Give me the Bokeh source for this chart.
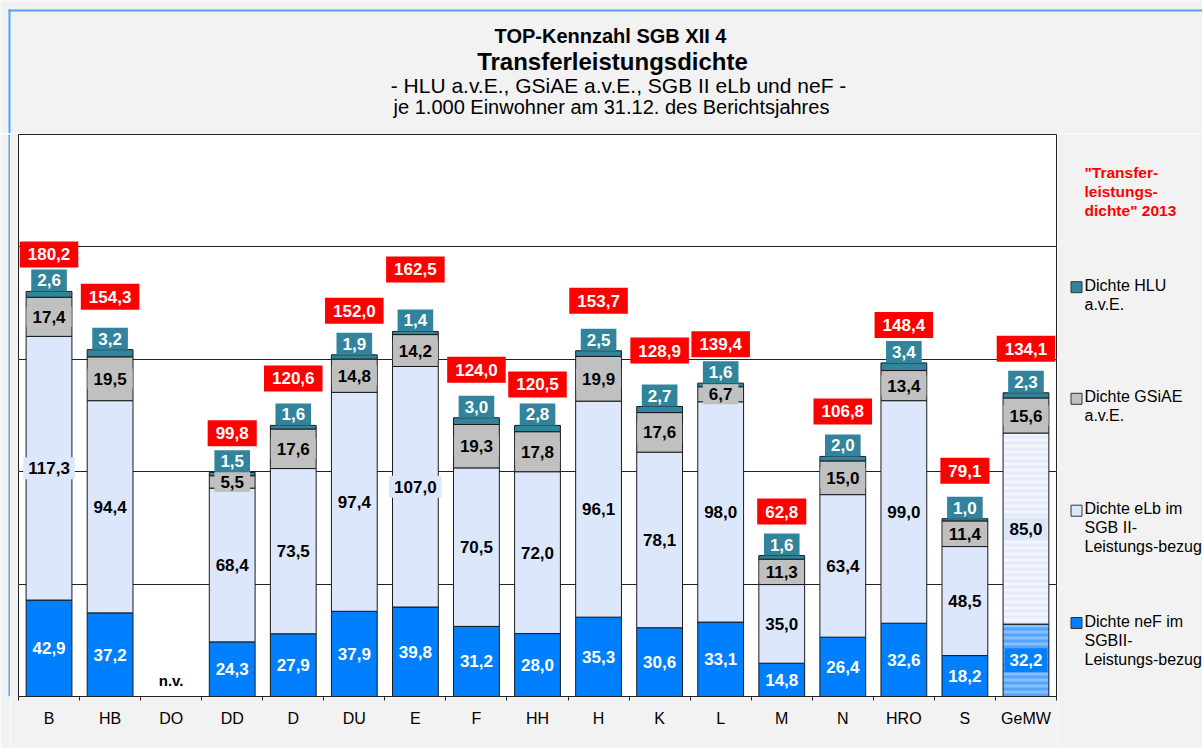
from bokeh.plotting import figure
from bokeh.layouts import column, row
from bokeh.models import (Range1d, FixedTicker, Label, Grid, ColumnDataSource,
                          CustomJSTickFormatter)
from bokeh.core.properties import value
from bokeh.embed import file_html
from bokeh.resources import INLINE

# ---------------- data ----------------
categories = ["B", "HB", "DO", "DD", "D", "DU", "E", "F", "HH", "H", "K", "L",
              "M", "N", "HRO", "S", "GeMW"]
nef   = [42.9, 37.2, None, 24.3, 27.9, 37.9, 39.8, 31.2, 28.0, 35.3, 30.6, 33.1,
         14.8, 26.4, 32.6, 18.2, 32.2]
elb   = [117.3, 94.4, None, 68.4, 73.5, 97.4, 107.0, 70.5, 72.0, 96.1, 78.1, 98.0,
         35.0, 63.4, 99.0, 48.5, 85.0]
gsiae = [17.4, 19.5, None, 5.5, 17.6, 14.8, 14.2, 19.3, 17.8, 19.9, 17.6, 6.7,
         11.3, 15.0, 13.4, 11.4, 15.6]
hlu   = [2.6, 3.2, None, 1.5, 1.6, 1.9, 1.4, 3.0, 2.8, 2.5, 2.7, 1.6,
         1.6, 2.0, 3.4, 1.0, 2.3]
totals = [180.2, 154.3, None, 99.8, 120.6, 152.0, 162.5, 124.0, 120.5, 153.7,
          128.9, 139.4, 62.8, 106.8, 148.4, 79.1, 134.1]
missing_text = "n.v."
average_category = "GeMW"

title_lines = ["TOP-Kennzahl SGB XII 4",
               "Transferleistungsdichte",
               "- HLU a.v.E., GSiAE a.v.E., SGB II eLb und neF -",
               "je 1.000 Einwohner am 31.12. des Berichtsjahres"]
legend_title = ['"Transfer-', 'leistungs-', 'dichte" 2013']
series_names = [["Dichte HLU", "a.v.E."],
                ["Dichte GSiAE", "a.v.E."],
                ["Dichte eLb im", "SGB II-", "Leistungs-bezug"],
                ["Dichte neF im", "SGBII-", "Leistungs-bezug"]]

# label placement (style: screen px above bar top for the red total boxes)
total_label_lift_px = [37, 53, 0, 39, 47, 44, 62, 48, 41, 50, 56, 39, 44, 45, 38, 48, 44]

# ---------------- style ----------------
FONT = "Liberation Sans"
C_NEF = "#0080ff"
C_ELB = "#dde7fb"
C_GSI = "#c0c0c0"
C_HLU = "#31849b"
C_RED = "#ff0000"
EDGE = "#1a1a1a"
BG = "#f2f2f2"
BLUE_BORDER = "#4da3ff"

TOP_H = 133          # page rows 0..132
MAIN_H = 615
STRIP_W = 10         # page cols 0..9
MAIN_W = 1047        # page cols 10..1056
LEG_W = 145          # page cols 1057..
TOTAL_W = STRIP_W + MAIN_W + LEG_W


def blank_fig(w, h, xr, yr):
    f = figure(width=w, height=h, x_range=xr, y_range=yr, output_backend="svg",
               toolbar_location=None, x_axis_location=None, y_axis_location=None,
               min_border=0, min_border_left=0, min_border_right=0,
               min_border_top=0, min_border_bottom=0)
    f.background_fill_color = BG
    f.border_fill_color = BG
    f.outline_line_color = None
    f.grid.visible = False
    return f

# ---------------- title figure (page coordinates) ----------------
top = blank_fig(TOTAL_W, TOP_H, Range1d(0, TOTAL_W), Range1d(TOP_H, 0))
top.quad(left=[8, 8], right=[TOTAL_W, 10], top=[9, 9], bottom=[11, TOP_H],
         fill_color=BLUE_BORDER, line_color=None)
title_x = [610, 612, 618, 611]
title_y = [35, 61, 85, 106]
title_size = ["20px", "24px", "21px", "20px"]
title_style = ["bold", "bold", "normal", "normal"]
for t, xx, yy, sz, st in zip(title_lines, title_x, title_y, title_size, title_style):
    top.text(x=[xx], y=[yy], text=[t], text_font=value(FONT), text_font_size=value(sz),
             text_font_style=st, text_align="center", text_baseline="alphabetic",
             text_color="black")

# ---------------- left strip with blue border line (frame = page rows 134..696) ----------------
strip = blank_fig(STRIP_W, MAIN_H, Range1d(0, STRIP_W), Range1d(0, 1))
strip.quad(left=[8], right=[10], top=[1], bottom=[0], fill_color=BLUE_BORDER,
           line_color=None)

# ---------------- main chart ----------------
p = figure(width=MAIN_W, height=MAIN_H, x_range=Range1d(0, len(categories)),
           y_range=Range1d(0, 250), output_backend="svg", toolbar_location=None,
           y_axis_location=None, min_border_left=8, min_border_right=1,
           min_border_top=1, min_border_bottom=52)
p.background_fill_color = "white"
p.border_fill_color = BG
p.outline_line_color = "#222222"
p.outline_line_width = 1
p.xgrid.visible = False

p.add_layout(Grid(dimension=1, ticker=FixedTicker(ticks=[50, 100, 150, 200]),
                  grid_line_color="#222222", grid_line_width=1))

ax = p.xaxis[0]
ax.ticker = FixedTicker(ticks=[i + 0.5 for i in range(len(categories))],
                        minor_ticks=list(range(len(categories) + 1)))
ax.formatter = CustomJSTickFormatter(args=dict(labels=categories),
                                     code="return labels[Math.floor(tick)] || '';")
ax.major_tick_line_color = None
ax.minor_tick_line_color = "#222222"
ax.minor_tick_in = 0
ax.minor_tick_out = 4
ax.axis_line_color = "#222222"
ax.major_label_text_font = FONT
ax.major_label_text_font_size = "16px"
ax.major_label_text_color = "black"
ax.major_label_standoff = 7

BAR_W = 0.75


def seg_source(rows):
    d = dict(x=[], b0=[], b1=[], b2=[], b3=[], b4=[])
    for i in rows:
        b1 = nef[i]
        b2 = b1 + elb[i]
        b3 = b2 + gsiae[i]
        b4 = b3 + hlu[i]
        d["x"].append(i + 0.5)
        d["b0"].append(0.0); d["b1"].append(b1); d["b2"].append(b2)
        d["b3"].append(b3); d["b4"].append(b4)
    return ColumnDataSource(d)


valid = [i for i in range(len(categories)) if nef[i] is not None]
avg_i = categories.index(average_category)
normal_rows = [i for i in valid if i != avg_i]

src = seg_source(normal_rows)
src_avg = seg_source([avg_i])

for s, hatch in ((src, False), (src_avg, True)):
    if hatch:
        p.vbar(x="x", width=BAR_W, bottom="b0", top="b1", source=s, fill_color="#86c0ff",
               hatch_pattern="horizontal_line", hatch_color="#55a3ff", hatch_scale=6,
               hatch_weight=3, line_color=EDGE, line_width=1)
        p.vbar(x="x", width=BAR_W, bottom="b1", top="b2", source=s, fill_color="#f3f6fe",
               hatch_pattern="horizontal_line", hatch_color="#e3eafb", hatch_scale=6,
               hatch_weight=3, line_color=EDGE, line_width=1)
    else:
        p.vbar(x="x", width=BAR_W, bottom="b0", top="b1", source=s, fill_color=C_NEF,
               line_color=EDGE, line_width=1)
        p.vbar(x="x", width=BAR_W, bottom="b1", top="b2", source=s, fill_color=C_ELB,
               line_color=EDGE, line_width=1)
    p.vbar(x="x", width=BAR_W, bottom="b2", top="b3", source=s, fill_color=C_GSI,
           line_color=EDGE, line_width=1)
    p.vbar(x="x", width=BAR_W, bottom="b3", top="b4", source=s, fill_color=C_HLU,
           line_color=EDGE, line_width=1)


def fmt(v):
    return f"{v:.1f}".replace(".", ",")


def vlabel(x, y, text, color, bg, pad, y_offset=0, size="17px"):
    p.add_layout(Label(x=x, y=y, text=text, text_align="center", text_baseline="middle",
                       y_offset=y_offset, text_font=FONT, text_font_style="bold",
                       text_font_size=size, text_color=color,
                       background_fill_color=bg, padding=pad))


for i in valid:
    x = i + 0.5
    b1 = nef[i]; b2 = b1 + elb[i]; b3 = b2 + gsiae[i]; b4 = b3 + hlu[i]
    vlabel(x, b1 / 2, fmt(nef[i]), "white", C_NEF, (5, 6))
    vlabel(x, (b1 + b2) / 2, fmt(elb[i]), "black", C_ELB, (5, 5))
    vlabel(x, (b2 + b3) / 2, fmt(gsiae[i]), "black", C_GSI, (6, 4))
    vlabel(x, b4, fmt(hlu[i]), "white", C_HLU, (6, 5), y_offset=11)
    vlabel(x, b4, fmt(totals[i]), "white", C_RED, (8, 7), y_offset=total_label_lift_px[i])

for i in range(len(categories)):
    if nef[i] is None:
        p.add_layout(Label(x=i + 0.5, y=0, y_offset=16, text=missing_text,
                           text_align="center", text_baseline="middle", text_font=FONT,
                           text_font_style="bold", text_font_size="15px",
                           text_color="black"))

# ---------------- legend figure (frame aligned with chart: x = page-1057, y = page-134) ----
leg = blank_fig(LEG_W, MAIN_H, Range1d(0, LEG_W), Range1d(562, 0))
LX = 27
leg.text(x=[LX] * len(legend_title), y=[37.5 + j * 19 for j in range(len(legend_title))],
         text=legend_title, text_font=value(FONT), text_font_size=value("15.5px"),
         text_font_style="bold", text_color=C_RED, text_baseline="alphabetic")

series_colors = [C_HLU, C_GSI, C_ELB, C_NEF]
first_base = [158.2, 269.8, 381.7, 494.0]
for color, lines, base in zip(series_colors, series_names, first_base):
    leg.text(x=[LX] * len(lines), y=[base - 7.5 + j * 19 for j in range(len(lines))],
             text=lines, text_font=value(FONT), text_font_size=value("16px"),
             text_color="black", text_baseline="alphabetic")
    leg.scatter(x=[19], y=[base - 5.5], marker="square", size=11, fill_color=color,
                line_color="#333333", line_width=1)

layout = column(top, row(strip, p, leg, spacing=0), spacing=0)

open("out.html", "w").write(file_html(layout, INLINE))
